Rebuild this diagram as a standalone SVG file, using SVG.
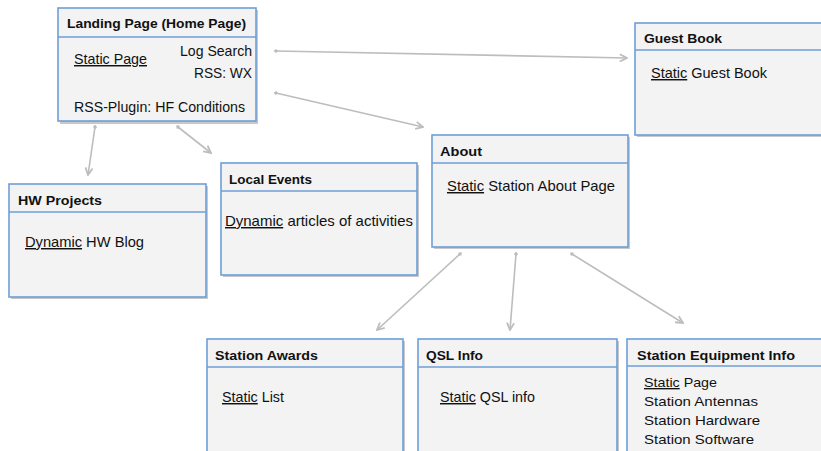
<svg xmlns="http://www.w3.org/2000/svg" width="821" height="451" viewBox="0 0 821 451">
<defs>
<style>
.box{fill:#f3f3f3;stroke:#6f9fd6;stroke-width:1.6}
.sh{fill:#c8c8c8}
.div{stroke:#6f9fd6;stroke-width:1.6}
.h{font-family:"Liberation Sans",Arial,sans-serif;font-weight:bold;font-size:13.5px;fill:#111}
.t{font-family:"Liberation Sans",Arial,sans-serif;font-size:14.5px;fill:#111}
.s{font-family:"Liberation Sans",Arial,sans-serif;font-size:13.5px;fill:#111}
.u{text-decoration:underline}
.c{stroke:#bdbdbd;stroke-width:1.6;fill:none;marker-start:url(#dot);marker-end:url(#arr)}
</style>
<marker id="arr" viewBox="0 0 10 10" refX="9" refY="5" markerWidth="9" markerHeight="9" markerUnits="userSpaceOnUse" orient="auto">
<path d="M1,1 L9,5 L1,9" fill="none" stroke="#bdbdbd" stroke-width="2"/>
</marker>
<marker id="dot" viewBox="0 0 6 6" refX="3" refY="3" markerWidth="5" markerHeight="5" markerUnits="userSpaceOnUse" orient="auto">
<path d="M0,3 L3,0.5 L6,3 L3,5.5 Z" fill="#bdbdbd"/>
</marker>
</defs>
<g id="connectors">
<path class="c" d="M276,51 L627,58"/>
<path class="c" d="M276,93 L423,127"/>
<path class="c" d="M95,127 L88,175"/>
<path class="c" d="M178,127 L211,153"/>
<path class="c" d="M460,254 L377,330"/>
<path class="c" d="M516,254 L510,330"/>
<path class="c" d="M572,254 L683,323"/>
</g>
<g id="landing">
<rect class="sh" x="60" y="10" width="198" height="114"/>
<rect class="box" x="58" y="8" width="198" height="113"/>
<line class="div" x1="58" y1="37" x2="256" y2="37"/>
<text class="h" x="67" y="28" textLength="179" lengthAdjust="spacingAndGlyphs">Landing Page (Home Page)</text>
<text class="t" x="74" y="64" textLength="73" lengthAdjust="spacingAndGlyphs"><tspan class="u">Static Page</tspan></text>
<text class="t" x="180" y="56" textLength="72" lengthAdjust="spacingAndGlyphs">Log Search</text>
<text class="t" x="194" y="78" textLength="58" lengthAdjust="spacingAndGlyphs">RSS: WX</text>
<text class="t" x="74" y="112" textLength="171" lengthAdjust="spacingAndGlyphs">RSS-Plugin: HF Conditions</text>
</g>
<g id="guestbook">
<rect class="sh" x="637" y="25" width="190" height="112"/>
<rect class="box" x="635" y="23" width="190" height="112"/>
<line class="div" x1="635" y1="50" x2="821" y2="50"/>
<text class="h" x="644" y="43" textLength="78" lengthAdjust="spacingAndGlyphs">Guest Book</text>
<text class="t" x="651" y="78" textLength="116" lengthAdjust="spacingAndGlyphs"><tspan class="u">Static</tspan> Guest Book</text>
</g>
<g id="hwprojects">
<rect class="sh" x="11" y="186" width="197" height="113"/>
<rect class="box" x="9" y="184" width="197" height="113"/>
<line class="div" x1="9" y1="212" x2="206" y2="212"/>
<text class="h" x="18" y="205" textLength="84" lengthAdjust="spacingAndGlyphs">HW Projects</text>
<text class="t" x="25" y="247" textLength="119" lengthAdjust="spacingAndGlyphs"><tspan class="u">Dynamic</tspan> HW Blog</text>
</g>
<g id="localevents">
<rect class="sh" x="223" y="165" width="196" height="112"/>
<rect class="box" x="221" y="163" width="196" height="112"/>
<line class="div" x1="221" y1="191" x2="417" y2="191"/>
<text class="h" x="229" y="184" textLength="83" lengthAdjust="spacingAndGlyphs">Local Events</text>
<text class="t" x="225" y="226" textLength="188" lengthAdjust="spacingAndGlyphs"><tspan class="u">Dynamic</tspan> articles of activities</text>
</g>
<g id="about">
<rect class="sh" x="434" y="137" width="196" height="112"/>
<rect class="box" x="432" y="135" width="196" height="112"/>
<line class="div" x1="432" y1="163" x2="628" y2="163"/>
<text class="h" x="440" y="156" textLength="42" lengthAdjust="spacingAndGlyphs">About</text>
<text class="t" x="447" y="191" textLength="168" lengthAdjust="spacingAndGlyphs"><tspan class="u">Static</tspan> Station About Page</text>
</g>
<g id="awards">
<rect class="sh" x="209" y="341" width="196" height="120"/>
<rect class="box" x="207" y="339" width="196" height="120"/>
<line class="div" x1="207" y1="367" x2="403" y2="367"/>
<text class="h" x="215" y="360" textLength="103" lengthAdjust="spacingAndGlyphs">Station Awards</text>
<text class="t" x="222" y="402" textLength="62" lengthAdjust="spacingAndGlyphs"><tspan class="u">Static</tspan> List</text>
</g>
<g id="qsl">
<rect class="sh" x="420" y="341" width="199" height="120"/>
<rect class="box" x="418" y="339" width="199" height="120"/>
<line class="div" x1="418" y1="367" x2="617" y2="367"/>
<text class="h" x="426" y="360" textLength="57" lengthAdjust="spacingAndGlyphs">QSL Info</text>
<text class="t" x="440" y="402" textLength="95" lengthAdjust="spacingAndGlyphs"><tspan class="u">Static</tspan> QSL info</text>
</g>
<g id="equipment">
<rect class="sh" x="629" y="341" width="200" height="120"/>
<rect class="box" x="627" y="339" width="200" height="120"/>
<line class="div" x1="627" y1="366" x2="821" y2="366"/>
<text class="h" x="637" y="360" textLength="158" lengthAdjust="spacingAndGlyphs">Station Equipment Info</text>
<text class="s" x="644" y="387" textLength="73" lengthAdjust="spacingAndGlyphs"><tspan class="u">Static</tspan> Page</text>
<text class="s" x="644" y="406" textLength="114" lengthAdjust="spacingAndGlyphs">Station Antennas</text>
<text class="s" x="644" y="425" textLength="116" lengthAdjust="spacingAndGlyphs">Station Hardware</text>
<text class="s" x="644" y="444" textLength="110" lengthAdjust="spacingAndGlyphs">Station Software</text>
</g>
</svg>
